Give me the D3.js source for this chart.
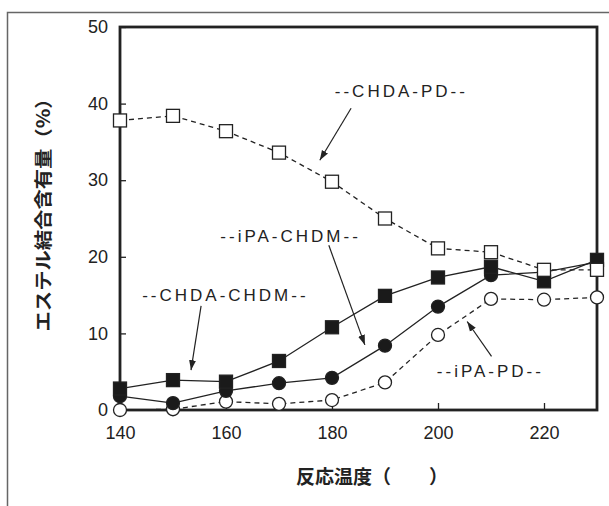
<!DOCTYPE html>
<html lang="ja">
<head>
<meta charset="utf-8">
<title>エステル結合含有量</title>
<style>
  body { margin: 0; background: #fff; }
  text { font-family: "Liberation Sans", Arial, sans-serif; fill: #222; }
  .jp { font-family: "Noto Sans CJK JP", sans-serif; font-weight: bold; }
  .note { font-size: 17px; letter-spacing: 3px; text-anchor: middle; }
</style>
</head>
<body>
<svg width="609" height="506"></svg>
<script src="https://cdn.jsdelivr.net/npm/d3@7"></script>
<script>
// reaction temperature (x) and the four series
var temps = [140, 150, 160, 170, 180, 190, 200, 210, 220, 230];
var chdaPD   = [37.8, 38.4, 36.4, 33.6, 29.8, 25.0, 21.1, 20.6, 18.3, 18.3];
var chdaCHDM = [2.8, 3.9, 3.7, 6.4, 10.8, 14.9, 17.3, 18.7, 16.8, 19.6];
var ipaCHDM  = [1.8, 0.9, 2.5, 3.5, 4.2, 8.4, 13.5, 17.6, 18.0, 19.3];
var ipaPD    = [0.0, 0.1, 1.1, 0.8, 1.3, 3.6, 9.8, 14.5, 14.4, 14.7];
var xTicks = [140, 160, 180, 200, 220];
var yTicks = [0, 10, 20, 30, 40, 50];

var svg = d3.select("svg");

// gray frame round the figure (top and left only)
svg.append("path")
  .attr("d", "M7.5,506V12.5H609")
  .attr("fill", "none").attr("stroke", "#666").attr("stroke-width", 1.5);

var x = d3.scaleLinear().domain([140, 230]).range([120, 597]);
var y = d3.scaleLinear().domain([0, 50]).range([410, 27]);

// axes, ticks pointing inward
var gx = svg.append("g").attr("transform", "translate(0," + y(0) + ")")
  .call(d3.axisBottom(x).tickValues(xTicks).tickSize(-7).tickPadding(16));
var gy = svg.append("g").attr("transform", "translate(" + x(140) + ",0)")
  .call(d3.axisLeft(y).tickValues(yTicks).tickSize(-6).tickPadding(12));
[gx, gy].forEach(function(g) {
  g.select(".domain").remove();
  g.selectAll("line").attr("stroke", "#222").attr("stroke-width", 1.3);
  g.selectAll("text").attr("font-size", 18).attr("fill", "#222")
    .attr("font-family", "'Liberation Sans', Arial, sans-serif");
});

// plot box
svg.append("rect")
  .attr("x", x(140)).attr("y", y(50))
  .attr("width", x(230) - x(140)).attr("height", y(0) - y(50))
  .attr("fill", "none").attr("stroke", "#222").attr("stroke-width", 2.8);

// drawing order: circles first, open squares last (they hide points at 220)
var series = [
  { vals: ipaPD,    dash: "5,4", shape: "circle", filled: false },
  { vals: ipaCHDM,  dash: null,  shape: "circle", filled: true },
  { vals: chdaCHDM, dash: null,  shape: "square", filled: true },
  { vals: chdaPD,   dash: "5,4", shape: "square", filled: false }
];

var line = d3.line()
  .x(function(d) { return x(d[0]); })
  .y(function(d) { return y(d[1]); });

series.forEach(function(s) {
  var pts = temps.map(function(t, i) { return [t, s.vals[i]]; });
  svg.append("path")
    .attr("d", line(pts))
    .attr("fill", "none").attr("stroke", "#222").attr("stroke-width", 1.3)
    .attr("stroke-dasharray", s.dash);
});

series.forEach(function(s) {
  var pts = temps.map(function(t, i) { return [t, s.vals[i]]; });
  var g = svg.append("g");
  if (s.shape === "square") {
    g.selectAll("rect").data(pts).enter().append("rect")
      .attr("x", function(d) { return x(d[0]) - 6.5; })
      .attr("y", function(d) { return y(d[1]) - 6.5; })
      .attr("width", 13).attr("height", 13);
  } else {
    g.selectAll("circle").data(pts).enter().append("circle")
      .attr("cx", function(d) { return x(d[0]); })
      .attr("cy", function(d) { return y(d[1]); })
      .attr("r", 6.5);
  }
  g.selectAll("*")
    .attr("fill", s.filled ? "#1a1a1a" : "#fff")
    .attr("stroke", "#222").attr("stroke-width", 1.3);
});

// annotations with arrows (in data units)
svg.append("defs").append("marker")
  .attr("id", "arr").attr("viewBox", "0 0 10 10")
  .attr("refX", 10).attr("refY", 5)
  .attr("markerWidth", 10).attr("markerHeight", 10)
  .attr("markerUnits", "userSpaceOnUse")
  .attr("orient", "auto")
  .append("path").attr("d", "M0,1.5L10,5L0,8.5Z").attr("fill", "#222");

var notes = [
  { text: "--CHDA-PD--",   tx: 192.8, ty: 40.9, from: [183.6, 39.4], to: [177.7, 32.6] },
  { text: "--iPA-CHDM--",  tx: 171.9, ty: 21.9, from: [179.4, 21.5], to: [186.2, 8.5] },
  { text: "--CHDA-CHDM--", tx: 159.6, ty: 14.2, from: [155.3, 13.6], to: [153.4, 5.2] },
  { text: "--iPA-PD--",    tx: 209.6, ty: 4.3,  from: [210.1, 7.0],  to: [205.5, 11.55] }
];
notes.forEach(function(n) {
  svg.append("text").attr("class", "note")
    .attr("x", x(n.tx) + 1.5).attr("y", y(n.ty))
    .text(n.text);
  svg.append("line")
    .attr("x1", x(n.from[0])).attr("y1", y(n.from[1]))
    .attr("x2", x(n.to[0])).attr("y2", y(n.to[1]))
    .attr("stroke", "#222").attr("stroke-width", 1.2)
    .attr("marker-end", "url(#arr)");
});

// axis titles
svg.append("text").attr("class", "jp")
  .attr("x", 372).attr("y", 484)
  .attr("text-anchor", "middle").attr("font-size", 19)
  .text("反応温度（　　）");

svg.append("text").attr("class", "jp")
  .attr("transform", "translate(50,210) rotate(-90)")
  .attr("text-anchor", "middle").attr("font-size", 18)
  .attr("textLength", 243).attr("lengthAdjust", "spacingAndGlyphs")
  .text("エステル結合含有量（%）");
</script>
</body>
</html>
